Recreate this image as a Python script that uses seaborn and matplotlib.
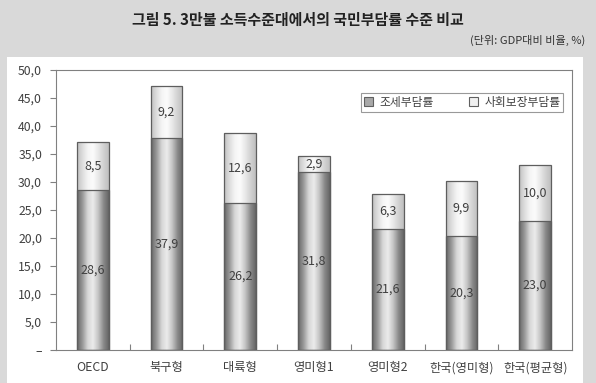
import numpy as np
import pandas as pd
import matplotlib
matplotlib.use("Agg")
import matplotlib.pyplot as plt
import seaborn as sns
from matplotlib.colors import LinearSegmentedColormap
from matplotlib.patches import Patch, Rectangle

categories = ["OECD", "북구형", "대륙형", "영미형1", "영미형2", "한국(영미형)", "한국(평균형)"]
tax_burden = [28.6, 37.9, 26.2, 31.8, 21.6, 20.3, 23.0]
social_burden = [8.5, 9.2, 12.6, 2.9, 6.3, 9.9, 10.0]
y_ticks = [0, 5, 10, 15, 20, 25, 30, 35, 40, 45, 50]
y_tick_labels = ["–", "5,0", "10,0", "15,0", "20,0", "25,0", "30,0", "35,0", "40,0", "45,0", "50,0"]
series_names = ["조세부담률", "사회보장부담률"]
title = "그림 5. 3만불 소득수준대에서의 국민부담률 수준 비교"
unit_text = "(단위: GDP대비 비율, %)"

sns.set_theme(style="white")
plt.rcParams["font.family"] = ["Noto Sans CJK KR", "DejaVu Sans"]

df = pd.DataFrame({
    "category": categories,
    "tax": tax_burden,
    "social": social_burden,
})
df["total"] = df["tax"] + df["social"]

fig = plt.figure(figsize=(5.96, 3.83), dpi=100)
fig.patch.set_facecolor("#d9d9d9")
panel = Rectangle((7 / 596, 0), 576 / 596, (383 - 57) / 383,
                  transform=fig.transFigure, facecolor="white",
                  edgecolor="none", zorder=-10)
fig.add_artist(panel)

ax = fig.add_axes([56 / 596, (383 - 350) / 383, 516 / 596, 280 / 383])
ax.set_zorder(1)
ax.set_facecolor("white")

bw = 0.43
sns.barplot(data=df, x="category", y="total", color="#eeeeee", width=bw,
            ax=ax, saturation=1)
n_total = len(ax.patches)
sns.barplot(data=df, x="category", y="tax", color="#a0a0a0", width=bw,
            ax=ax, saturation=1)

dark_cmap = LinearSegmentedColormap.from_list(
    "dark", ["#666666", "#969696", "#d6d6d6", "#ececec", "#c4c4c4", "#8a8a8a", "#646464"])
light_cmap = LinearSegmentedColormap.from_list(
    "light", ["#c0c0c0", "#dcdcdc", "#f4f4f4", "#fcfcfc", "#e8e8e8", "#d2d2d2", "#bebebe"])
grad = np.linspace(0, 1, 256).reshape(1, -1)

for i, p in enumerate(ax.patches):
    x0, y0 = p.get_x(), p.get_y()
    w, h = p.get_width(), p.get_height()
    cmap = light_cmap if i < n_total else dark_cmap
    z = 1.5 if i < n_total else 2.0
    im = ax.imshow(grad, cmap=cmap, aspect="auto", extent=(x0, x0 + w, y0, y0 + h),
                   zorder=z, interpolation="bicubic")
    im.set_clip_path(p)
    p.set_facecolor("none")
    p.set_edgecolor("#5e5e5e")
    p.set_linewidth(0.9)
    p.set_zorder(3)

ax.set_xlim(-0.5, len(categories) - 0.5)
ax.set_ylim(0, 50)

# value labels
for i, (t, s) in enumerate(zip(tax_burden, social_burden)):
    ax.text(i, t / 2, f"{t:.1f}".replace(".", ","), ha="center", va="center",
            fontsize=9, color="#404040", zorder=4)
    ax.text(i, t + s / 2, f"{s:.1f}".replace(".", ","), ha="center", va="center",
            fontsize=9, color="#404040", zorder=4)

ax.set_yticks(y_ticks)
ax.set_yticklabels(y_tick_labels)
ax.set_xticks(range(len(categories)))
ax.set_xticklabels(categories)
ax.set_xticks(np.arange(0.5, len(categories) - 0.5, 1), minor=True)
ax.tick_params(axis="y", which="major", direction="out", length=4, width=0.8,
               color="#808080", labelsize=8.8, labelcolor="#404040", pad=6, left=True)
ax.tick_params(axis="x", which="major", length=0, labelsize=8.8,
               labelcolor="#404040", pad=8)
ax.tick_params(axis="x", which="minor", direction="in", length=4, width=0.8,
               color="#808080", bottom=True)
ax.set_xlabel("")
ax.set_ylabel("")
for sp in ax.spines.values():
    sp.set_visible(True)
    sp.set_color("#808080")
    sp.set_linewidth(0.8)

handles = [Patch(facecolor="#a8a8a8", edgecolor="#606060", linewidth=0.8),
           Patch(facecolor="#f0f0f0", edgecolor="#606060", linewidth=0.8)]
leg = ax.legend(handles, series_names, ncol=2, loc="upper right",
                bbox_to_anchor=(0.983, 0.918), fontsize=8.5, frameon=True,
                fancybox=False, edgecolor="#808080", handlelength=0.8,
                handleheight=0.8, handletextpad=0.5, columnspacing=3.0,
                borderpad=0.25, borderaxespad=0.0, labelcolor="#404040")
leg.get_frame().set_linewidth(0.8)

fig.text(298 / 596, 1 - 20 / 383, title, ha="center", va="center",
         fontsize=10.8, fontweight="bold", color="#222222")
fig.text(585 / 596, 1 - 40 / 383, unit_text, ha="right", va="center",
         fontsize=8, color="#333333")

fig.savefig("out.png", dpi=100, facecolor=fig.get_facecolor())
